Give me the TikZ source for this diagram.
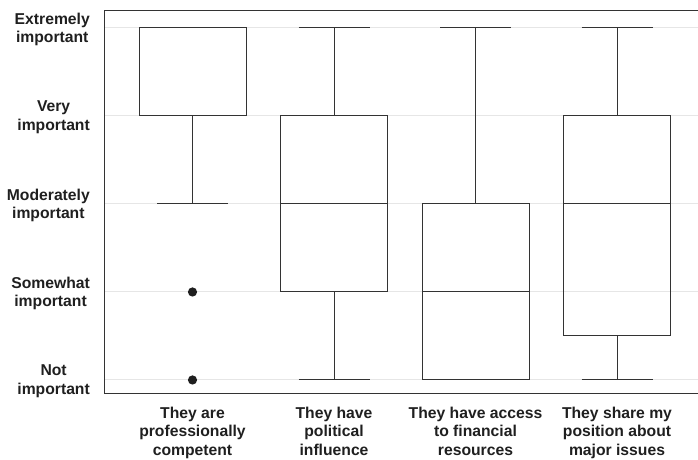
\documentclass[tikz,border=0pt]{standalone}
\usepackage{fontspec}
\setmainfont{Liberation Sans}
\usetikzlibrary{positioning}
\definecolor{inkgray}{HTML}{333333}
\definecolor{labgray}{HTML}{1F1F1F}
\definecolor{gridgray}{HTML}{E6E6E6}

\begin{document}
\begin{tikzpicture}[x=1pt, y=88pt,
    boxline/.style={draw=inkgray, line width=1pt},
    gridline/.style={draw=gridgray, line width=1pt},
    levellab/.style={anchor=east, align=center, inner sep=0pt, text=labgray,
        font=\fontsize{15.7}{18.5}\selectfont\bfseries},
    catlab/.style={anchor=north, align=center, inner sep=0pt, text=labgray,
        font=\fontsize{15.7}{18.7}\selectfont\bfseries}]
    \useasboundingbox (0,0.0909) rectangle (698,5.318);

    % gitterlinien
    \draw[gridline] (104,1) -- (698,1);
    \draw[gridline] (104,2) -- (698,2);
    \draw[gridline] (104,3) -- (698,3);
    \draw[gridline] (104,4) -- (698,4);
    \draw[gridline] (104,5) -- (698,5);

    % rahmen (rechts abgeschnitten)
    \draw[boxline] (698,5.193) -- (104,5.193) -- (104,0.852) -- (698,0.852);

    % beschriftung der stufen
    \node[levellab] (ylab5) at (90,4.985) {Extremely\\important};
    \node[levellab] (ylab4) at (90,3.985) {Very\\important};
    \node[levellab] (ylab3) at (90,2.985) {Moderately\\important};
    \node[levellab] (ylab2) at (90,1.985) {Somewhat\\important};
    \node[levellab] (ylab1) at (90,0.985) {Not\\important};

    % box 1
    \draw[boxline] (192.5,4) -- (192.5,3);
    \draw[boxline] (157,3) -- (228,3);
    \draw[boxline] (139,4) rectangle (246,5);
    \fill[labgray] (192.5,2) circle (4.6pt);
    \fill[labgray] (192.5,1) circle (4.6pt);

    % box 2
    \draw[boxline] (334,4) -- (334,5);
    \draw[boxline] (298.5,5) -- (369.5,5);
    \draw[boxline] (334,2) -- (334,1);
    \draw[boxline] (298.5,1) -- (369.5,1);
    \draw[boxline] (280.5,2) rectangle (387.5,4);
    \draw[boxline] (280.5,3) -- (387.5,3);

    % box 3
    \draw[boxline] (475.5,3) -- (475.5,5);
    \draw[boxline] (440,5) -- (511,5);
    \draw[boxline] (422,1) rectangle (529,3);
    \draw[boxline] (422,2) -- (529,2);

    % box 4
    \draw[boxline] (617,4) -- (617,5);
    \draw[boxline] (581.5,5) -- (652.5,5);
    \draw[boxline] (617,1.5) -- (617,1);
    \draw[boxline] (581.5,1) -- (652.5,1);
    \draw[boxline] (563.5,1.5) rectangle (670.5,4);
    \draw[boxline] (563.5,3) -- (670.5,3);

    % kategorien
    \node[catlab] (xlab1) at (192.5,0.697) {They are\\professionally\\competent};
    \node[catlab] (xlab2) at (334,0.697) {They have\\political\\influence};
    \node[catlab] (xlab3) at (475.5,0.697) {They have access\\to financial\\resources};
    \node[catlab] (xlab4) at (617,0.697) {They share my\\position about\\major issues};
\end{tikzpicture}
\end{document}
